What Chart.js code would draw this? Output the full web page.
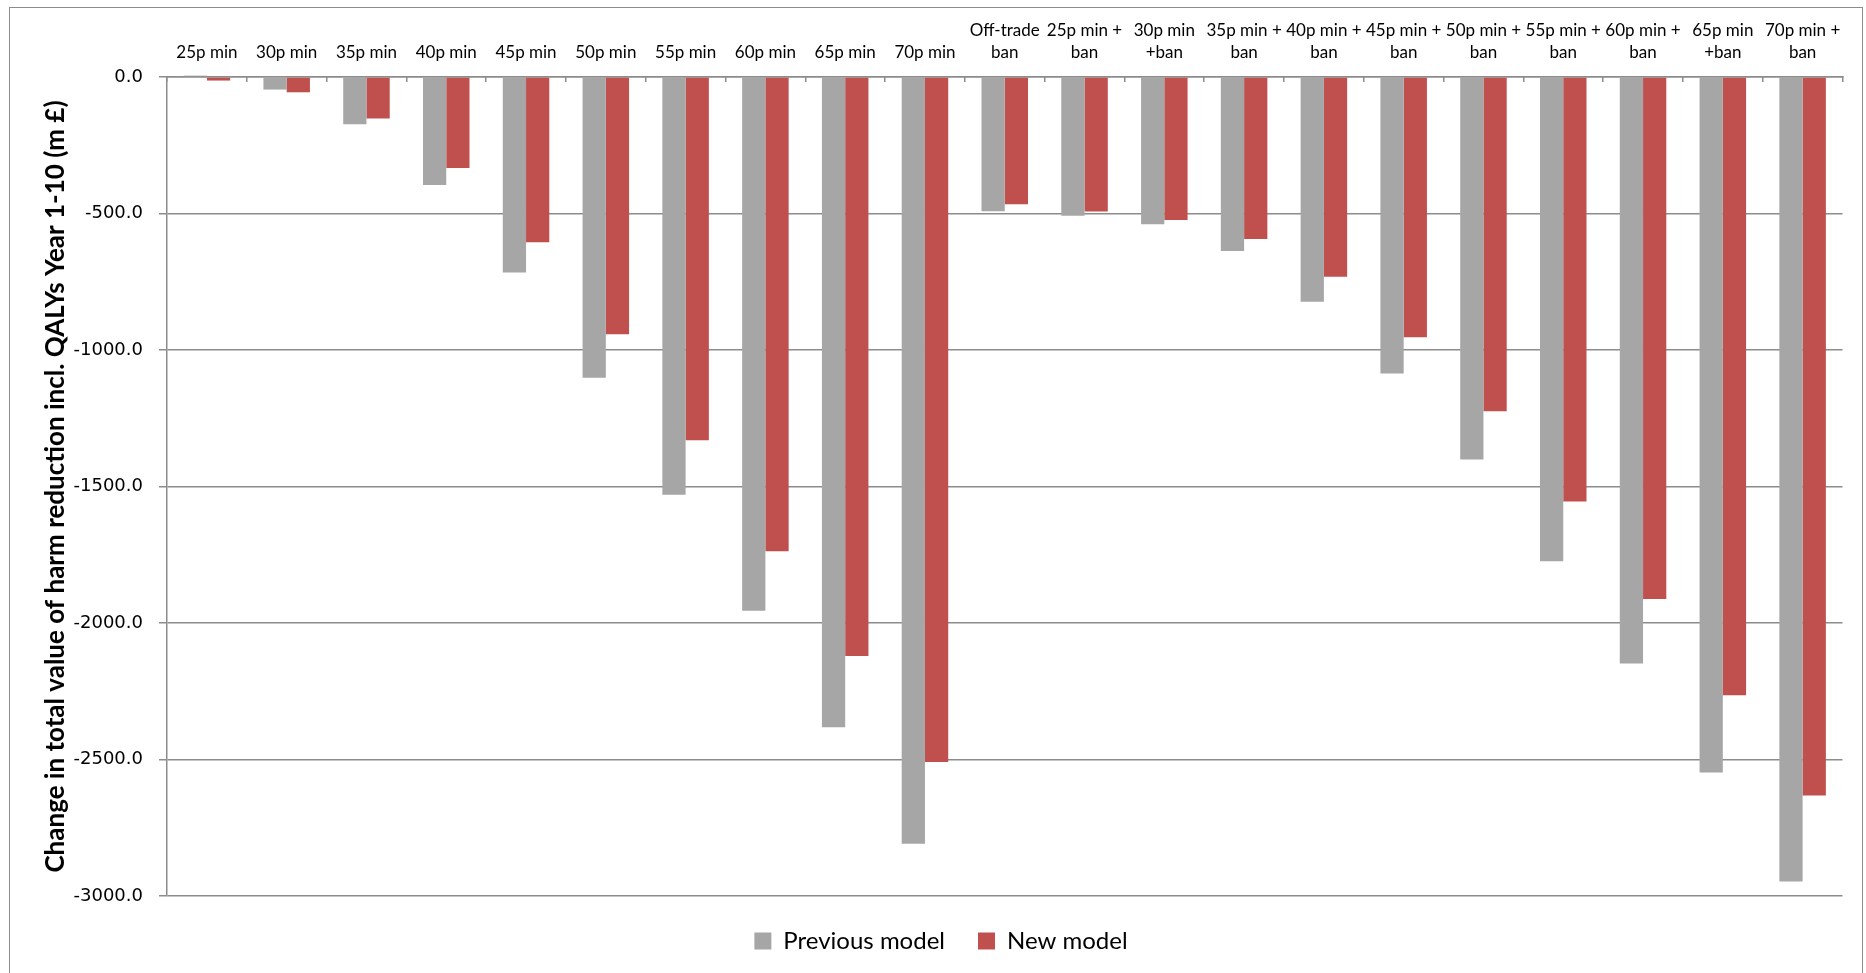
<!DOCTYPE html>
<html>
<head>
<meta charset="utf-8">
<title>Harm reduction value by policy</title>
<script src="https://cdn.jsdelivr.net/npm/chart.js@4.4.0/dist/chart.umd.min.js"></script>
<style>
    html, body { margin: 0; padding: 0; background: #fff; overflow: hidden; }
    #wrap { position: relative; width: 1866px; height: 973px; }
    #frame { position: absolute; left: 9px; top: 7px; width: 1854px; height: 1000px; border: 1.5px solid #8c8c8c; box-sizing: border-box; }
    #chartBox { position: absolute; left: 0; top: 0; width: 1866px; height: 973px; }
</style>
</head>
<body>
<div id="wrap">
    <div id="frame"></div>
    <div id="chartBox"><canvas id="harmChart"></canvas></div>
</div>
<script>
// policy scenarios (multi-line labels as in the original)
var categories = [
    ['25p min'], ['30p min'], ['35p min'], ['40p min'], ['45p min'],
    ['50p min'], ['55p min'], ['60p min'], ['65p min'], ['70p min'],
    ['Off-trade', 'ban'], ['25p min +', 'ban'], ['30p min', '+ban'], ['35p min +', 'ban'],
    ['40p min +', 'ban'], ['45p min +', 'ban'], ['50p min +', 'ban'], ['55p min +', 'ban'],
    ['60p min +', 'ban'], ['65p min', '+ban'], ['70p min +', 'ban']
];
var previousModel = [5, -46, -173, -396, -716, -1102, -1530, -1955, -2382, -2809,
    -492, -508, -539, -637, -823, -1086, -1401, -1774, -2148, -2548, -2947];
var newModel = [-13, -56, -152, -333, -605, -942, -1331, -1737, -2121, -2509,
    -466, -493, -524, -593, -732, -953, -1224, -1555, -1912, -2265, -2632];
var yTickValues = [0, -500, -1000, -1500, -2000, -2500, -3000];

var axisGrey = '#8c8c8c';
var labelFont = 'Lato, "Open Sans", sans-serif';

new Chart(document.getElementById('harmChart'), {
    type: 'bar',
    data: {
        labels: categories,
        datasets: [
            { label: 'Previous model', data: previousModel, backgroundColor: '#A6A6A6', borderWidth: 0, clip: false },
            { label: 'New model', data: newModel, backgroundColor: '#C0504D', borderWidth: 0, clip: false }
        ]
    },
    options: {
        responsive: true,
        maintainAspectRatio: false,
        animation: false,
        layout: { padding: { left: 39.5, right: 23.5, top: 0, bottom: 10 } },
        datasets: { bar: { categoryPercentage: 0.583, barPercentage: 1.0 } },
        scales: {
            x: {
                position: 'top',
                grid: { drawOnChartArea: false, drawTicks: true, tickLength: -5, color: axisGrey, lineWidth: 1.5 },
                border: { display: true, color: axisGrey, width: 1.5 },
                ticks: { autoSkip: false, maxRotation: 0, minRotation: 0, padding: 18, color: '#000',
                    font: { family: labelFont, size: 17, lineHeight: 1.32 } },
                afterFit: function(scale) { scale.height = 77; }
            },
            y: {
                min: Math.min.apply(null, yTickValues),
                max: Math.max.apply(null, yTickValues),
                grid: { color: axisGrey, lineWidth: 1.5, tickLength: 8 },
                border: { display: true, color: axisGrey, width: 1.5 },
                ticks: {
                    stepSize: 500, padding: 16, color: '#000',
                    font: { family: '"DejaVu Sans", Verdana, sans-serif', size: 18 },
                    callback: function(v) { return v.toFixed(1); }
                },
                title: {
                    display: true,
                    text: 'Change in total value of harm reduction incl. QALYs Year 1-10 (m £)',
                    color: '#000',
                    font: { family: labelFont, size: 26, weight: 'bold', lineHeight: 1.2 },
                    padding: { top: 1, bottom: 0 }
                },
                afterFit: function(scale) { scale.width = 127.5; }
            }
        },
        plugins: {
            legend: {
                position: 'bottom',
                labels: { boxWidth: 17, boxHeight: 17, padding: 33, color: '#000',
                    font: { family: labelFont, size: 24 } }
            },
            tooltip: { enabled: false }
        }
    }
});
</script>
</body>
</html>
